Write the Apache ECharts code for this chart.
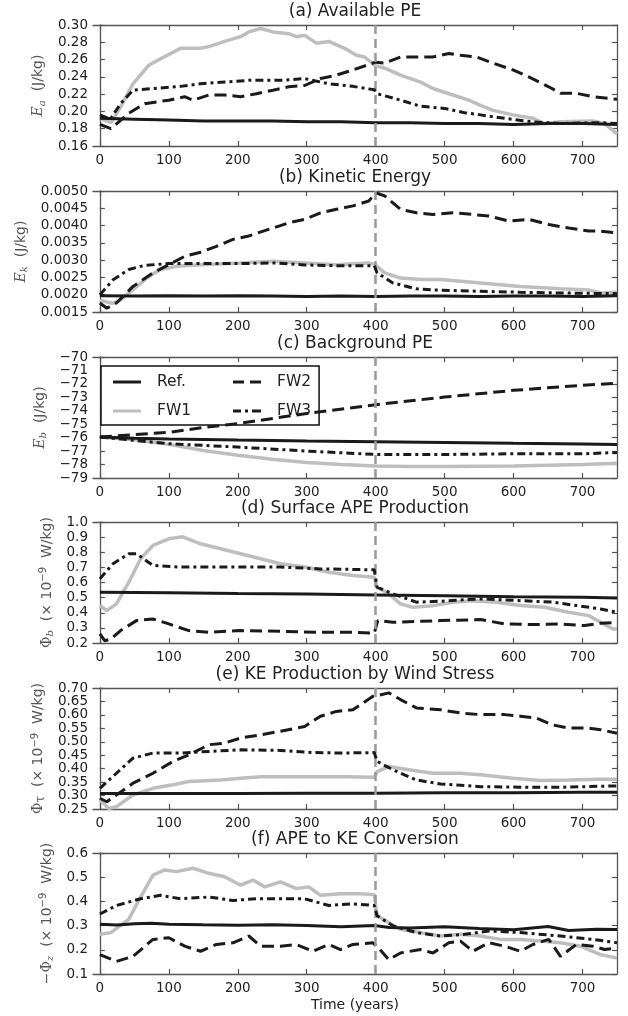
<!DOCTYPE html>
<html>
<head>
<meta charset="utf-8">
<script src="https://cdn.jsdelivr.net/npm/echarts@6/dist/echarts.min.js"></script>
<style>
html, body { margin: 0; padding: 0; background: #fff; }
#chart { width: 628px; height: 1016px; }
</style>
</head>
<body>
<div id="chart"></div>
<script>
// x ticks shared by all panels
var tick_years = [0, 100, 200, 300, 400, 500, 600, 700];
var restart_year = 400;

var titles = ['(a) Available PE', '(b) Kinetic Energy', '(c) Background PE',
    '(d) Surface APE Production', '(e) KE Production by Wind Stress', '(f) APE to KE Conversion'];
var y_min = [0.16, 0.0015, -79, 0.2, 0.25, 0.1];
var y_max = [0.30, 0.0050, -70, 1.0, 0.70, 0.6];
var y_step = [0.02, 0.0005, 1, 0.1, 0.05, 0.1];
var y_decimals = [2, 4, 0, 1, 2, 1];
var y_names = [
    '{i|E}{s|a}  (J/kg)',
    '{i|E}{s|k}  (J/kg)',
    '{i|E}{s|b}  (J/kg)',
    '{g|Φ}{s|b}  (× 10{p|−9}  W/kg)',
    '{g|Φ}{t|τ}  (× 10{p|−9}  W/kg)',
    '{g|−Φ}{s|z}  (× 10{p|−9}  W/kg)'
];

// (a) available PE
var a_ref = [[0,0.192],[50,0.191],[100,0.190],[150,0.189],[200,0.189],[250,0.189],[300,0.188],[350,0.188],[400,0.187],[450,0.187],[500,0.186],[550,0.186],[600,0.185],[650,0.186],[700,0.186],[750,0.185]];
var a_fw1 = [[0,0.192],[16,0.187],[30,0.205],[48,0.232],[71,0.2535],[88,0.261],[117,0.273],[146,0.273],[158,0.275],[181,0.281],[204,0.2865],[216,0.292],[233,0.296],[251,0.292],[274,0.290],[285,0.2865],[297,0.288],[314,0.279],[332,0.281],[355,0.273],[372,0.265],[384,0.263],[399,0.253],[413,0.250],[436,0.242],[465,0.234],[483,0.2265],[512,0.219],[535,0.213],[552,0.207],[569,0.2015],[599,0.196],[628,0.192],[645,0.186],[668,0.188],[715,0.189],[732,0.186],[750,0.174]];
var a_fw2 = [[0,0.185],[16,0.180],[42,0.198],[65,0.209],[100,0.213],[123,0.217],[135,0.213],[158,0.219],[181,0.219],[204,0.217],[227,0.2205],[251,0.2245],[274,0.2285],[297,0.230],[320,0.238],[343,0.242],[367,0.248],[400,0.257],[413,0.256],[436,0.263],[459,0.263],[483,0.263],[506,0.267],[523,0.265],[546,0.263],[570,0.256],[599,0.248],[622,0.240],[651,0.2285],[668,0.221],[691,0.221],[715,0.217],[750,0.214]];
var a_fw3 = [[0,0.196],[15,0.191],[30,0.209],[48,0.2245],[77,0.2265],[117,0.229],[146,0.232],[181,0.234],[216,0.236],[262,0.236],[297,0.238],[332,0.232],[367,0.229],[398,0.225],[402,0.2205],[436,0.213],[465,0.206],[500,0.2035],[529,0.1985],[552,0.196],[587,0.192],[628,0.188],[668,0.186],[726,0.187],[750,0.186]];

// (b) kinetic energy
var b_ref = [[0,0.00197],[50,0.00196],[100,0.00197],[150,0.00196],[200,0.00197],[250,0.00196],[300,0.00195],[350,0.00196],[400,0.00195],[450,0.00196],[500,0.00196],[550,0.00195],[600,0.00196],[650,0.00196],[700,0.00195],[750,0.00197]];
var b_fw1 = [[0,0.00184],[18,0.00175],[30,0.00185],[48,0.00215],[71,0.00253],[88,0.00273],[111,0.00282],[146,0.00287],[204,0.00292],[251,0.00297],[297,0.00292],[343,0.00287],[390,0.00292],[399,0.00287],[413,0.00263],[436,0.00248],[465,0.00244],[494,0.00244],[523,0.00239],[552,0.00234],[610,0.00224],[668,0.00217],[709,0.00214],[726,0.00205],[750,0.00207]];
var b_fw2 = [[0,0.00176],[10,0.00161],[24,0.00176],[48,0.00224],[77,0.00263],[100,0.00287],[123,0.00311],[146,0.00323],[169,0.0034],[193,0.0036],[216,0.0037],[251,0.00393],[274,0.00408],[297,0.00418],[320,0.00437],[343,0.00447],[367,0.00457],[390,0.00471],[400,0.00495],[413,0.00486],[436,0.00447],[459,0.00437],[483,0.00432],[512,0.00437],[541,0.00432],[564,0.00428],[593,0.00413],[622,0.00418],[651,0.00403],[680,0.00393],[709,0.00384],[726,0.00384],[750,0.00379]];
var b_fw3 = [[0,0.0020],[19,0.00243],[42,0.00273],[65,0.00285],[100,0.0029],[146,0.0029],[204,0.0029],[251,0.00292],[297,0.00286],[343,0.00284],[398,0.00284],[402,0.00263],[425,0.00234],[459,0.00217],[494,0.00213],[552,0.0021],[610,0.00207],[668,0.00205],[750,0.00203]];

// (c) background PE
var c_ref = [[0,-75.95],[50,-76.05],[100,-76.1],[200,-76.18],[300,-76.25],[400,-76.3],[500,-76.36],[600,-76.42],[700,-76.47],[750,-76.5]];
var c_fw1 = [[0,-75.95],[50,-76.15],[100,-76.5],[150,-76.95],[200,-77.3],[250,-77.6],[300,-77.85],[350,-78.0],[400,-78.1],[450,-78.15],[500,-78.15],[600,-78.1],[700,-78.0],[750,-77.9]];
var c_fw2 = [[0,-75.95],[100,-75.6],[150,-75.25],[200,-74.95],[300,-74.2],[400,-73.55],[500,-72.98],[600,-72.48],[700,-72.1],[750,-71.95]];
var c_fw3 = [[0,-75.95],[100,-76.45],[200,-76.7],[300,-77.0],[400,-77.25],[500,-77.25],[600,-77.2],[700,-77.2],[750,-77.1]];

// (d) surface APE production
var d_ref = [[0,0.536],[100,0.533],[200,0.528],[300,0.524],[400,0.518],[500,0.512],[600,0.506],[700,0.502],[750,0.498]];
var d_fw1 = [[0,0.448],[10,0.414],[24,0.459],[42,0.602],[59,0.757],[77,0.845],[100,0.889],[120,0.902],[146,0.856],[175,0.823],[204,0.790],[233,0.757],[262,0.724],[297,0.702],[332,0.668],[367,0.646],[398,0.635],[402,0.569],[419,0.525],[436,0.459],[454,0.436],[483,0.447],[512,0.47],[541,0.48],[575,0.47],[610,0.448],[645,0.436],[680,0.403],[709,0.381],[726,0.337],[744,0.293],[750,0.293]];
var d_fw2 = [[0,0.26],[7,0.215],[16,0.226],[30,0.282],[53,0.348],[77,0.359],[100,0.326],[129,0.282],[158,0.271],[204,0.282],[262,0.277],[320,0.271],[367,0.271],[398,0.264],[403,0.348],[425,0.337],[494,0.348],[552,0.355],[587,0.326],[628,0.322],[668,0.326],[703,0.315],[726,0.33],[750,0.337]];
var d_fw3 = [[0,0.624],[19,0.724],[42,0.79],[53,0.79],[77,0.713],[117,0.702],[204,0.702],[262,0.702],[320,0.69],[398,0.684],[402,0.569],[425,0.525],[459,0.47],[494,0.476],[552,0.492],[610,0.48],[657,0.47],[691,0.448],[726,0.425],[750,0.403]];

// (e) KE production by wind stress
var e_ref = [[0,0.308],[100,0.308],[200,0.308],[300,0.309],[400,0.309],[500,0.31],[600,0.31],[700,0.312],[750,0.312]];
var e_fw1 = [[0,0.284],[13,0.252],[24,0.259],[48,0.302],[77,0.327],[106,0.34],[129,0.352],[175,0.358],[204,0.364],[233,0.37],[274,0.37],[320,0.37],[355,0.37],[398,0.368],[402,0.389],[419,0.408],[448,0.396],[483,0.383],[523,0.383],[552,0.377],[599,0.364],[639,0.356],[680,0.358],[726,0.361],[750,0.361]];
var e_fw2 = [[0,0.29],[10,0.277],[24,0.302],[48,0.346],[77,0.383],[106,0.427],[129,0.451],[158,0.489],[181,0.495],[204,0.514],[233,0.526],[262,0.539],[297,0.557],[320,0.595],[343,0.613],[367,0.619],[396,0.669],[404,0.673],[419,0.682],[436,0.657],[459,0.626],[494,0.619],[523,0.607],[552,0.601],[587,0.601],[610,0.595],[633,0.588],[656,0.563],[680,0.551],[709,0.551],[726,0.545],[750,0.532]];
var e_fw3 = [[0,0.327],[24,0.383],[48,0.439],[77,0.458],[117,0.458],[158,0.464],[204,0.47],[262,0.468],[309,0.46],[349,0.458],[398,0.46],[402,0.427],[425,0.396],[459,0.358],[494,0.343],[552,0.333],[610,0.331],[668,0.331],[750,0.336]];

// (f) APE to KE conversion
var f_ref = [[0,0.306],[25,0.302],[50,0.308],[75,0.31],[100,0.306],[150,0.303],[200,0.301],[250,0.303],[300,0.3],[350,0.295],[398,0.3],[420,0.292],[450,0.29],[500,0.295],[550,0.288],[600,0.283],[650,0.296],[680,0.28],[720,0.285],[750,0.284]];
var f_fw1 = [[0,0.264],[16,0.271],[42,0.327],[59,0.418],[77,0.509],[94,0.53],[111,0.523],[135,0.537],[158,0.516],[181,0.502],[204,0.467],[222,0.488],[239,0.46],[262,0.481],[285,0.453],[303,0.46],[320,0.425],[349,0.432],[378,0.432],[398,0.428],[402,0.341],[419,0.313],[436,0.285],[465,0.271],[494,0.257],[523,0.264],[552,0.257],[581,0.243],[610,0.243],[639,0.236],[668,0.229],[697,0.215],[726,0.18],[750,0.166]];
var f_fw2 = [[0,0.18],[24,0.152],[48,0.173],[77,0.243],[100,0.25],[123,0.215],[146,0.194],[169,0.222],[193,0.229],[216,0.257],[233,0.215],[262,0.215],[285,0.222],[309,0.194],[332,0.222],[349,0.201],[367,0.222],[396,0.229],[404,0.208],[419,0.159],[436,0.187],[465,0.201],[483,0.187],[506,0.229],[523,0.236],[541,0.194],[564,0.229],[587,0.215],[610,0.194],[628,0.222],[651,0.243],[668,0.173],[691,0.222],[715,0.215],[732,0.201],[750,0.208]];
var f_fw3 = [[0,0.348],[24,0.383],[59,0.411],[88,0.425],[117,0.411],[158,0.418],[193,0.404],[227,0.411],[262,0.411],[297,0.411],[332,0.383],[367,0.39],[398,0.383],[402,0.341],[425,0.299],[459,0.271],[494,0.257],[529,0.264],[564,0.278],[610,0.271],[668,0.257],[715,0.243],[750,0.229]];

var panel_data = [
    [a_fw1, a_ref, a_fw2, a_fw3],
    [b_fw1, b_ref, b_fw2, b_fw3],
    [c_fw1, c_ref, c_fw2, c_fw3],
    [d_fw1, d_ref, d_fw2, d_fw3],
    [e_fw1, e_ref, e_fw2, e_fw3],
    [f_fw1, f_ref, f_fw2, f_fw3]
];
var series_names = ['FW1', 'Ref.', 'FW2', 'FW3'];
var series_styles = [
    { color: '#bebebe', width: 3.5, type: 'solid' },
    { color: '#1a1a1a', width: 3, type: 'solid' },
    { color: '#1a1a1a', width: 3, type: [12, 6] },
    { color: '#1a1a1a', width: 3, type: [8, 4, 3, 4] }
];

// legend line samples (solid / dashed / dash-dot)
var icon_solid = 'path://M0,0h28v3h-28z';
var icon_dash = 'path://M0,0h11v3h-11zM17,0h11v3h-11z';
var icon_dashdot = 'path://M0,0h8v3h-8zM12,0h3v3h-3zM19,0h9v3h-9z';

var panel_tops = [25, 191, 357, 522, 688, 853];
var panel_h = 121;
var name_gaps = [45, 63, 44, 37, 45, 37];
var plot_left = 93, plot_right = 11;
var axis_color = '#555';
var font = 'DejaVu Sans';

var myChart = echarts.init(document.getElementById('chart'));

var grids = [], xAxes = [], yAxes = [], series = [], graphics = [];

var name_rich = {
    i: { fontFamily: 'DejaVu Serif', fontStyle: 'italic', fontSize: 14, color: '#555', lineHeight: 17 },
    g: { fontFamily: 'DejaVu Serif', fontSize: 14, color: '#555', lineHeight: 17 },
    s: { fontFamily: 'DejaVu Serif', fontStyle: 'italic', fontSize: 10, color: '#555', lineHeight: 10, verticalAlign: 'bottom' },
    t: { fontFamily: 'DejaVu Serif', fontSize: 12, color: '#555', lineHeight: 12, verticalAlign: 'bottom' },
    p: { fontFamily: font, fontSize: 10, color: '#555', lineHeight: 10, verticalAlign: 'top' }
};

for (var i = 0; i < 6; i++) {
    grids.push({ left: plot_left, right: plot_right, top: panel_tops[i], height: panel_h, outerBoundsMode: 'none' });

    var xBase = {
        type: 'value', gridIndex: i, min: -10, max: 750,
        axisLine: { show: true, lineStyle: { color: axis_color, width: 1.3 } },
        axisTick: { show: true, inside: true, length: 5, customValues: tick_years, lineStyle: { color: axis_color, width: 1.2 } },
        splitLine: { show: false }
    };
    xAxes.push(Object.assign({}, xBase, {
        position: 'bottom',
        axisLabel: { show: true, customValues: tick_years, color: '#222', fontSize: 13.5, fontFamily: font, margin: 7 },
        name: i === 5 ? 'Time (years)' : '',
        nameLocation: 'middle', nameGap: 24,
        nameTextStyle: { fontSize: 14, fontFamily: font, color: '#222' }
    }));
    xAxes.push(Object.assign({}, xBase, { position: 'top', axisLabel: { show: false } }));

    // tick values split into two label sets so close labels are all kept
    var even_vals = [], odd_vals = [];
    var n = Math.round((y_max[i] - y_min[i]) / y_step[i]);
    for (var j = 0; j <= n; j++) {
        var v = +(y_min[i] + j * y_step[i]).toFixed(y_decimals[i] + 2);
        (j % 2 === 0 ? even_vals : odd_vals).push(v);
    }

    (function (dec) {
        var fmt = function (v) { return v.toFixed(dec).replace('-', '\u2212'); };
        var yBase = {
            type: 'value', gridIndex: i, min: y_min[i], max: y_max[i], interval: y_step[i],
            axisLine: { show: true, lineStyle: { color: axis_color, width: 1.3 } },
            axisTick: { show: true, inside: true, length: 5, lineStyle: { color: axis_color, width: 1.2 } },
            splitLine: { show: false }
        };
        var labelBase = { show: true, color: '#222', fontSize: 13.5, fontFamily: font, margin: 5, formatter: fmt };
        yAxes.push(Object.assign({}, yBase, {
            position: 'left',
            axisLabel: Object.assign({ customValues: even_vals }, labelBase),
            name: y_names[i], nameLocation: 'middle', nameGap: name_gaps[i], nameRotate: 90,
            nameTextStyle: { fontSize: 14, fontFamily: font, color: '#555', rich: name_rich }
        }));
        yAxes.push(Object.assign({}, yBase, {
            position: 'left',
            axisLine: { show: false }, axisTick: { show: false },
            axisLabel: Object.assign({ customValues: odd_vals }, labelBase)
        }));
        yAxes.push(Object.assign({}, yBase, { position: 'right', axisLabel: { show: false } }));
    })(y_decimals[i]);

    for (var k = 0; k < 4; k++) {
        var st = series_styles[k];
        var s = {
            name: series_names[k],
            type: 'line',
            xAxisIndex: i * 2,
            yAxisIndex: i * 3,
            data: panel_data[i][k],
            symbol: 'none',
            showSymbol: false,
            smooth: false,
            lineStyle: { color: st.color, width: st.width, type: st.type, cap: 'butt' },
            itemStyle: { color: st.color },
            z: 2 + k
        };
        if (k === 3) {
            s.markLine = {
                silent: true,
                symbol: ['none', 'none'],
                label: { show: false },
                lineStyle: { color: '#999', width: 2.5, type: [9, 5] },
                data: [{ xAxis: restart_year }]
            };
        }
        series.push(s);
    }

    graphics.push({
        type: 'text',
        x: plot_left + (628 - plot_left - plot_right) / 2,
        y: panel_tops[i] - 13,
        style: {
            text: titles[i], textAlign: 'center', textVerticalAlign: 'middle',
            fontSize: 17, fontFamily: font, fill: '#222'
        }
    });
}

var legend_text = { fontSize: 15.5, fontFamily: font, color: '#222', padding: [0, 0, 0, 11], lineHeight: 14 };

option = {
    animation: false,
    backgroundColor: '#fff',
    grid: grids,
    xAxis: xAxes,
    yAxis: yAxes,
    series: series,
    graphic: graphics,
    legend: [
        {
            data: [{ name: 'Ref.', icon: icon_solid }, { name: 'FW1', icon: icon_solid }],
            orient: 'vertical',
            left: 101, top: 366,
            itemWidth: 28, itemHeight: 3.5, itemGap: 13,
            padding: [8, 128, 6, 12],
            backgroundColor: '#fff',
            borderColor: '#111', borderWidth: 1.5, borderRadius: 0,
            textStyle: legend_text,
            selectedMode: false
        },
        {
            data: [{ name: 'FW2', icon: icon_dash }, { name: 'FW3', icon: icon_dashdot }],
            orient: 'vertical',
            left: 221, top: 366,
            itemWidth: 28, itemHeight: 3.5, itemGap: 13,
            padding: [8, 0, 6, 12],
            textStyle: legend_text,
            selectedMode: false
        }
    ]
};

myChart.setOption(option);
</script>
</body>
</html>
